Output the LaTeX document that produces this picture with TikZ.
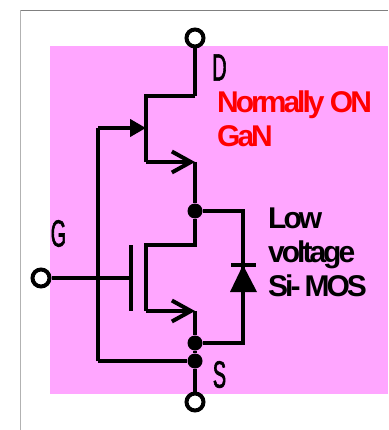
\documentclass[tikz,border=0pt]{standalone}
\usepackage{fontspec}
\setmainfont{Liberation Sans}
\newfontfamily\labelfont[FakeStretch=0.52,FakeBold=1.5]{Liberation Sans}
\newfontfamily\tightfont[LetterSpace=-10]{Liberation Sans}
\usetikzlibrary{arrows.meta}
\definecolor{panelpink}{RGB}{255,166,255}
\tikzset{
  wire/.style={line width=4pt, line join=miter},
  barb/.style={-{Straight Barb[length=19pt, width=21pt, line width=4pt]}},
  terminal/.style={circle, draw, line width=4pt, fill=white, minimum size=17pt, inner sep=0pt},
  junction/.style={circle, fill=black, minimum size=15pt, inner sep=0pt},
  pinlabel/.style={font=\labelfont\fontsize{38}{38}\selectfont, inner sep=0pt},
  partlabel/.style={font=\tightfont\bfseries\fontsize{30}{34}\selectfont, inner sep=0pt, anchor=base west, align=left},
}
\begin{document}
\begin{tikzpicture}[x=1pt, y=-1pt]
        \useasboundingbox (0,0) rectangle (388,430);

        % Panel and frame
        \fill[panelpink] (50,46.5) rectangle (388,394);
        \draw[gray!60, line width=1.5pt] (20.5,430) -- (20.5,10.5);
        \draw[gray, line width=0.8pt] (20.5,10.5) -- (388,10.5);

        % Terminals and junctions
        \coordinate (d1) at (195,96);
        \coordinate (d2) at (146,96);
        \coordinate (gan) at (146,128);
        \coordinate (gs) at (98,128);
        \coordinate (gb) at (98,361);
        \coordinate (e1) at (146,162);
        \coordinate (e2) at (195,162);
        \coordinate (m1) at (195,245);
        \coordinate (m2) at (146,245);
        \coordinate (m3) at (146,311);
        \coordinate (m4) at (195,311);
        \coordinate (gp) at (131,278);
        \coordinate (gt) at (131,245);
        \coordinate (gu) at (131,311);
        \coordinate (k1) at (243,211);
        \coordinate (k2) at (243,343);
        \coordinate (ka) at (243,265);
        \node[junction] (top) at (195,211) {};
        \node[junction] (mid) at (195,343) {};
        \node[junction] (low) at (195,361) {};

        % GaN device
        \draw[wire] (d1) -- (d2) -- (e1);
        \draw[wire, barb] (e1) -- (e2);
        \draw[wire, -{Triangle[length=16pt, width=17pt]}] (gs) -- (gan);
        \draw[wire] (gb) -- (gs);
        \draw[wire] (e2) -- (top);

        % Si-MOS device
        \draw[wire] (top) -- (m1) -- (m2) -- (m3);
        \draw[wire, barb] (m3) -- (m4);
        \draw[wire] (m4) -- (mid) -- (low);
        \draw[wire] (gt) -- (gu);

        % Diode
        \draw[wire] (top) -- (k1) -- (k2) -- (mid);
        \fill (ka) -- (257,292) -- (230,292) -- cycle;
        \draw[wire] (231,265) -- (256,265);

        % Source return
        \draw[wire] (low) -- (gb);

        % Terminals on top of the wires
        \node[terminal] (D) at (195,38) {};
        \node[terminal] (S) at (195,402) {};
        \node[terminal] (G) at (41,278) {};
        \draw[wire] (D) -- (d1);
        \draw[wire] (low) -- (S);
        \draw[wire] (G) -- (gp);

        % Labels
        \node[pinlabel] (Dlabel) at (219.5,67.5) {D};
        \node[pinlabel] (Glabel) at (58.5,233.5) {G};
        \node[pinlabel] (Slabel) at (219.5,374.5) {S};
        \node[partlabel, red] (ganlabel) at (217,147) {Normally ON\\GaN};
        \node[partlabel, black] (silabel) at (268,296) {Low\\voltage\\Si-\kern4pt MOS};
\end{tikzpicture}
\end{document}
